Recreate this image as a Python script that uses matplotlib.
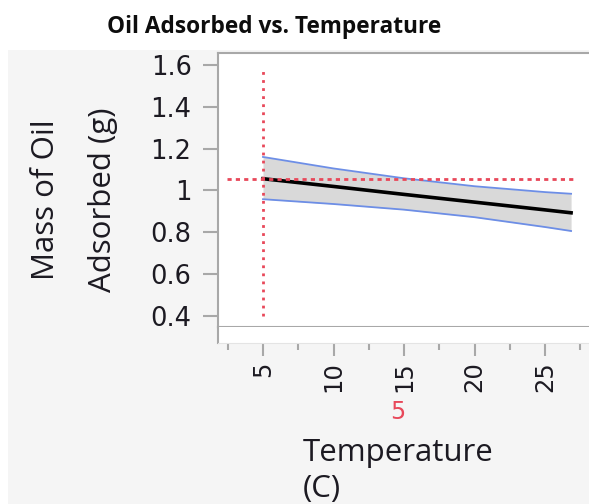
import matplotlib.pyplot as plt
from matplotlib.patches import Rectangle
from matplotlib.ticker import FixedLocator

# prediction profile: Mass of Oil Adsorbed vs Temperature
temps = [5, 10, 15, 20, 25, 26.85]
mass_pred = [1.056, 1.019, 0.981, 0.944, 0.907, 0.893]
mass_upper = [1.160, 1.105, 1.058, 1.020, 0.992, 0.984]
mass_lower = [0.958, 0.935, 0.908, 0.872, 0.825, 0.806]

temp_current = 5
mass_current = 1.056

y_ticks = [0.4, 0.6, 0.8, 1.0, 1.2, 1.4, 1.6]
y_tick_labels = ['0.4', '0.6', '0.8', '1', '1.2', '1.4', '1.6']
x_ticks = [5, 10, 15, 20, 25]
x_minor = [2.5, 7.5, 12.5, 17.5, 22.5, 27.5]

W, H = 589, 504
fig = plt.figure(figsize=(W / 100, H / 100), dpi=100)
fig.patch.set_facecolor('white')

def fx(px):
    return px / W

def fy(py):
    return 1 - py / H

# grey panel behind the profiler
fig.add_artist(Rectangle((fx(8), 0), 1, fy(50), transform=fig.transFigure,
                         facecolor='#f5f5f5', edgecolor='none', zorder=-5))

ppu = (545 - 263) / 20.0  # pixels per degree
x_left = 5 - (263 - 218) / ppu
x_right = 5 + (599 - 263) / ppu

frame = '#a8a8a8'
red = '#e8485a'
txt = '#1c1a22'

ax = fig.add_axes([fx(218), fy(327), fx(599 - 218), (327 - 53) / H])
ax.set_facecolor('white')
ax.set_xlim(x_left, x_right)
ax.set_ylim(0.347, 1.657)
for s in ['top', 'left', 'bottom']:
    ax.spines[s].set_color(frame)
    ax.spines[s].set_linewidth(1.5)
ax.spines['right'].set_visible(False)
ax.set_xticks([])
ax.set_yticks(y_ticks, y_tick_labels)
ax.tick_params(axis='y', direction='out', length=11, width=1.5, color=frame,
               pad=8, labelsize=18.5, labelcolor=txt)

ax.fill_between(temps, mass_lower, mass_upper, color='#d9d9d9', lw=0, zorder=1)
ax.plot(temps, mass_upper, color='#6d8ee6', lw=1.3, zorder=2)
ax.plot(temps, mass_lower, color='#6d8ee6', lw=1.3, zorder=2)
ax.plot(temps, mass_pred, color='black', lw=2.6, zorder=3)

# crosshair at current setting
ax.plot([temp_current, temp_current], [0.4, 1.571], color=red, lw=2,
        ls=(0, (1, 1.9)), zorder=4)
ax.plot([2.45, 27.0], [mass_current, mass_current], color=red, lw=2,
        ls=(0, (1.5, 1.5)), zorder=4)

# x axis strip
ax2 = fig.add_axes([fx(218), fy(343), fx(599 - 218), 16 / H])
ax2.set_facecolor('white')
ax2.set_xlim(x_left, x_right)
ax2.set_yticks([])
ax2.spines['top'].set_visible(False)
ax2.spines['right'].set_visible(False)
ax2.spines['left'].set_color(frame)
ax2.spines['left'].set_linewidth(1.5)
ax2.spines['bottom'].set_color('#e4e4e4')
ax2.set_xticks(x_ticks, [str(t) for t in x_ticks])
ax2.xaxis.set_minor_locator(FixedLocator(x_minor))
ax2.tick_params(axis='x', which='major', direction='out', length=9.4, width=1.5,
                color=frame, pad=4, labelsize=17.5, labelcolor=txt,
                labelrotation=90)
ax2.tick_params(axis='x', which='minor', direction='out', length=5, width=1.5,
                color=frame)

# texts
fig.text(fx(274), fy(27), 'Oil Adsorbed vs. Temperature', family='Open Sans',
         weight='bold', fontsize=16.3, ha='center', va='center', color='#0d0d0d')
fig.text(fx(46), fy(200), 'Mass of Oil', family='Open Sans', fontsize=22.5,
         rotation=90, ha='center', va='center', color=txt)
fig.text(fx(103), fy(200), 'Adsorbed (g)', family='Open Sans', fontsize=22.5,
         rotation=90, ha='center', va='center', color=txt)
fig.text(fx(398), fy(412), str(temp_current), fontsize=17, color=red,
         ha='center', va='center')
fig.text(fx(303), fy(453), 'Temperature', family='Open Sans', fontsize=22.5,
         ha='left', va='center', color=txt)
fig.text(fx(303), fy(489), '(C)', family='Open Sans', fontsize=22.5,
         ha='left', va='center', color=txt)

fig.savefig('out.png', dpi=100)
